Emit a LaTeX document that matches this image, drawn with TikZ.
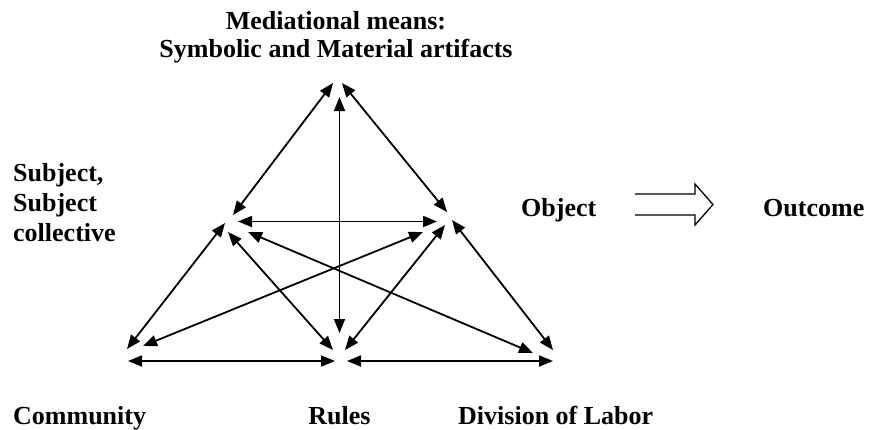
\documentclass[tikz,border=0pt]{standalone}
\usepackage{fontspec}
\setmainfont{Liberation Serif}
\usetikzlibrary{arrows.meta}
\tikzset{
  lbl/.style={font=\fontsize{26}{28}\selectfont\bfseries, inner sep=0pt},
  link/.style={line width=1.8pt, {Triangle[length=14pt,width=11pt]}-{Triangle[length=14pt,width=11pt]}},
  hollow/.style={line width=1.3pt, line join=miter}
}
\begin{document}
\begin{tikzpicture}[x=1pt,y=-1pt]
\useasboundingbox (0,0) rectangle (869,429);
% labels
\node[lbl, anchor=north, align=center] (med) at (336,11) {Mediational means:\\Symbolic and Material artifacts};
\node[lbl, font=\fontsize{26}{30}\selectfont\bfseries, anchor=north west, align=left] (subj) at (13,163) {Subject,\\Subject\\collective};
\node[lbl, anchor=base west] (obj) at (521,216) {Object};
\node[lbl, anchor=base west] (out) at (763,216) {Outcome};
\node[lbl, anchor=base west] (comm) at (13,424) {Community};
\node[lbl, anchor=base] (rules) at (339.5,424) {Rules};
\node[lbl, anchor=base west] (div) at (458,424) {Division of Labor};
% end points
\coordinate (TL) at (333,83);
\coordinate (TR) at (342,83);
\coordinate (TV) at (339.5,97);
\coordinate (LT) at (233,215);
\coordinate (LH) at (238,221.5);
\coordinate (LC) at (225,223);
\coordinate (LR) at (228,232);
\coordinate (LD) at (248,232);
\coordinate (RT) at (447,212);
\coordinate (RH) at (437,221.5);
\coordinate (RC) at (423,232);
\coordinate (RR) at (445,225);
\coordinate (RD) at (452,220);
\coordinate (CL) at (127,349);
\coordinate (CR) at (143,346);
\coordinate (CH) at (128,361);
\coordinate (BV) at (339.5,333);
\coordinate (BL) at (333,350);
\coordinate (BR) at (345,350);
\coordinate (BHL) at (335,361);
\coordinate (BHR) at (347,361);
\coordinate (DL) at (533,353);
\coordinate (DR) at (553,350);
\coordinate (DH) at (553,361);
% links
\draw[link] (TL) -- (LT);
\draw[link] (TR) -- (RT);
\draw[link] (TV) -- (BV);
\draw[link] (LH) -- (RH);
\draw[link] (LC) -- (CL);
\draw[link] (LR) -- (BL);
\draw[link] (LD) -- (DL);
\draw[link] (RC) -- (CR);
\draw[link] (RR) -- (BR);
\draw[link] (RD) -- (DR);
\draw[link] (CH) -- (BHL);
\draw[link] (BHR) -- (DH);
% hollow arrow Object -> Outcome
\coordinate (HA) at (635,194);
\coordinate (HB) at (635,215);
\draw[hollow] (HA) -- (695,194) -- (695,184) -- (713,204.5) -- (695,225) -- (695,215) -- (HB);
\end{tikzpicture}
\end{document}
